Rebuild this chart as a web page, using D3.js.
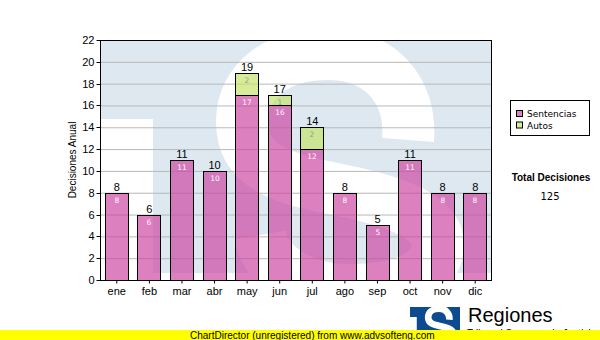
<!DOCTYPE html>
<html>
<head>
<meta charset="utf-8">
<script src="https://cdn.jsdelivr.net/npm/d3@7/dist/d3.min.js"></script>
<style>
  html, body { margin: 0; padding: 0; background: #fff; }
  svg { display: block; }
  text { font-family: "Liberation Sans", Arial, sans-serif; }
</style>
</head>
<body>
<svg id="chart" width="600" height="340"></svg>
<script>
// Monthly decisions, stacked by type
const months = ["ene", "feb", "mar", "abr", "may", "jun", "jul", "ago", "sep", "oct", "nov", "dic"];
const sentencias = [8, 6, 11, 10, 17, 16, 12, 8, 5, 11, 8, 8];
const autos = [0, 0, 0, 0, 2, 1, 2, 0, 0, 0, 0, 0];
const yTicks = [0, 2, 4, 6, 8, 10, 12, 14, 16, 18, 20, 22];
const seriesNames = ["Sentencias", "Autos"];

const svg = d3.select("#chart");
const plot = { left: 100, right: 491, top: 40, bottom: 280 };

const x = d3.scaleBand().domain(months)
  .range([plot.left, plot.right])
  .paddingInner(0.3).paddingOuter(0.15);
const y = d3.scaleLinear().domain([0, 22]).range([plot.bottom, plot.top]);

const colors = {
  Sentencias: "rgba(204,68,160,0.68)",
  Autos: "rgba(196,228,110,0.7)"
};
const inLabel = { Sentencias: "#fff6fb", Autos: "#9a9a9a" };

// Logo artwork: "T" block with a white "S" cut through it (unit box 391 x 233)
const LOGO_W = 391, LOGO_H = 233;
const logoBody = "M0,0H391V233H53V79H0Z";
const logoS = "M308,100 C312,50 280,14 228,14 C178,14 142,40 142,82 " +
              "C142,130 190,140 240,150 C300,162 338,178 338,205 " +
              "C338,235 300,250 250,250 C200,250 165,225 160,195";
function drawLogo(g, fill, ink) {
  g.append("path").attr("d", logoBody).attr("fill", fill);
  g.append("path").attr("d", logoS).attr("fill", "none")
    .attr("stroke", ink).attr("stroke-width", 52);
}

// plot background with faint logo watermark
svg.append("defs").append("clipPath").attr("id", "plotClip")
  .append("rect").attr("x", plot.left).attr("y", plot.top)
  .attr("width", plot.right - plot.left).attr("height", plot.bottom - plot.top);

const bg = svg.append("g").attr("clip-path", "url(#plotClip)");
bg.append("rect").attr("x", plot.left).attr("y", plot.top)
  .attr("width", plot.right - plot.left).attr("height", plot.bottom - plot.top)
  .attr("fill", "#fff");
drawLogo(bg.append("g").attr("transform", `translate(${plot.left},${plot.top})`), "#dee8f1", "#fff");

// horizontal grid
svg.append("g").selectAll("line").data(yTicks.filter(d => d > 0 && d < 22)).join("line")
  .attr("x1", plot.left).attr("x2", plot.right)
  .attr("y1", d => y(d) + 0.5).attr("y2", d => y(d) + 0.5)
  .attr("stroke", "#b8b8b8").attr("stroke-width", 1);

// stacked bars
const stackData = months.map((m, i) => ({ month: m, Sentencias: sentencias[i], Autos: autos[i] }));
const stacked = d3.stack().keys(seriesNames)(stackData);

const barsG = svg.append("g");
stacked.forEach(layer => {
  const key = layer.key;
  layer.forEach(seg => {
    const v = seg[1] - seg[0];
    if (v <= 0) return;
    const x0 = Math.round(x(seg.data.month)) + 0.5;
    const w = Math.round(x.bandwidth());
    const yTop = Math.round(y(seg[1])) + 0.5;
    const yBot = Math.round(y(seg[0])) + 0.5;
    barsG.append("rect")
      .attr("x", x0).attr("y", yTop).attr("width", w).attr("height", yBot - yTop)
      .attr("fill", colors[key]).attr("stroke", "#000").attr("stroke-width", 1);
    barsG.append("text")
      .attr("x", x0 + w / 2).attr("y", yTop + 9)
      .attr("text-anchor", "middle")
      .style("font-family", "'DejaVu Sans', Verdana, sans-serif")
      .style("font-size", "7.5px")
      .attr("fill", inLabel[key])
      .text(v);
  });
});

// totals above bars
svg.append("g").selectAll("text").data(stackData).join("text")
  .attr("x", d => x(d.month) + x.bandwidth() / 2 + 0.5)
  .attr("y", d => y(d.Sentencias + d.Autos) - 2)
  .attr("text-anchor", "middle")
  .style("font-size", "11px")
  .attr("fill", "#000")
  .text(d => d.Sentencias + d.Autos);

// plot frame
svg.append("rect")
  .attr("x", plot.left + 0.5).attr("y", plot.top + 0.5)
  .attr("width", plot.right - plot.left).attr("height", plot.bottom - plot.top)
  .attr("fill", "none").attr("stroke", "#000");

// axes
const yAxis = d3.axisLeft(y).tickValues(yTicks).tickSize(4).tickPadding(2);
const gy = svg.append("g").attr("transform", `translate(${plot.left + 0.5},0)`).call(yAxis);
gy.select(".domain").remove();
gy.selectAll("text").style("font-size", "11px").attr("fill", "#000")
  .style("font-family", "'Liberation Sans', Arial, sans-serif");
gy.selectAll("line").attr("stroke", "#000");
gy.selectAll(".tick").attr("transform", d => `translate(0,${Math.round(y(d)) + 0.5})`);

const xAxis = d3.axisBottom(x).tickSize(3).tickPadding(4);
const gx = svg.append("g").attr("transform", `translate(0.5,${plot.bottom + 0.5})`).call(xAxis);
gx.select(".domain").remove();
gx.selectAll("text").style("font-size", "11px").attr("fill", "#000")
  .style("font-family", "'Liberation Sans', Arial, sans-serif");
gx.selectAll("line").attr("stroke", "#000");

// y axis title
svg.append("text")
  .attr("transform", `translate(76,${(plot.top + plot.bottom) / 2}) rotate(-90)`)
  .attr("text-anchor", "middle")
  .style("font-size", "10px")
  .attr("fill", "#000")
  .text("Decisiones Anual");

// legend
const lg = svg.append("g");
lg.append("rect").attr("x", 510.5).attr("y", 100.5).attr("width", 79).attr("height", 35)
  .attr("fill", "#fff").attr("stroke", "#000");
seriesNames.forEach((name, i) => {
  const yy = 110 + i * 11.5;
  lg.append("rect").attr("x", 516.5).attr("y", yy + 0.5).attr("width", 6).attr("height", 6)
    .attr("fill", colors[name]).attr("stroke", "#000");
  lg.append("text").attr("x", 527).attr("y", yy + 7)
    .style("font-family", "'DejaVu Sans', Verdana, sans-serif")
    .style("font-size", "9px").attr("fill", "#000").text(name);
});

// total summary
const total = d3.sum(sentencias) + d3.sum(autos);
svg.append("text").attr("x", 551).attr("y", 181).attr("text-anchor", "middle")
  .style("font-size", "10px").style("font-weight", "bold").attr("fill", "#000")
  .text("Total Decisiones");
svg.append("text").attr("x", 550).attr("y", 199.5).attr("text-anchor", "middle")
  .style("font-family", "'DejaVu Sans', Verdana, sans-serif")
  .style("font-size", "10px").attr("fill", "#000")
  .text(total);

// footer logo and caption
drawLogo(svg.append("g").attr("transform", `translate(410,307) scale(${50 / LOGO_W})`), "#0d4b91", "#fff");
svg.append("text").attr("x", 468).attr("y", 322)
  .style("font-size", "20px").attr("fill", "#000").text("Regiones");
svg.append("text").attr("x", 467).attr("y", 337)
  .style("font-size", "10px").attr("fill", "#000").text("Tribunal Supremo de Justicia");

// unregistered banner
svg.append("rect").attr("x", 0).attr("y", 330).attr("width", 600).attr("height", 10).attr("fill", "#ffff00");
svg.append("text").attr("x", 190).attr("y", 338.5)
  .style("font-size", "10px").attr("fill", "#000")
  .text("ChartDirector (unregistered) from www.advsofteng.com");
</script>
</body>
</html>
